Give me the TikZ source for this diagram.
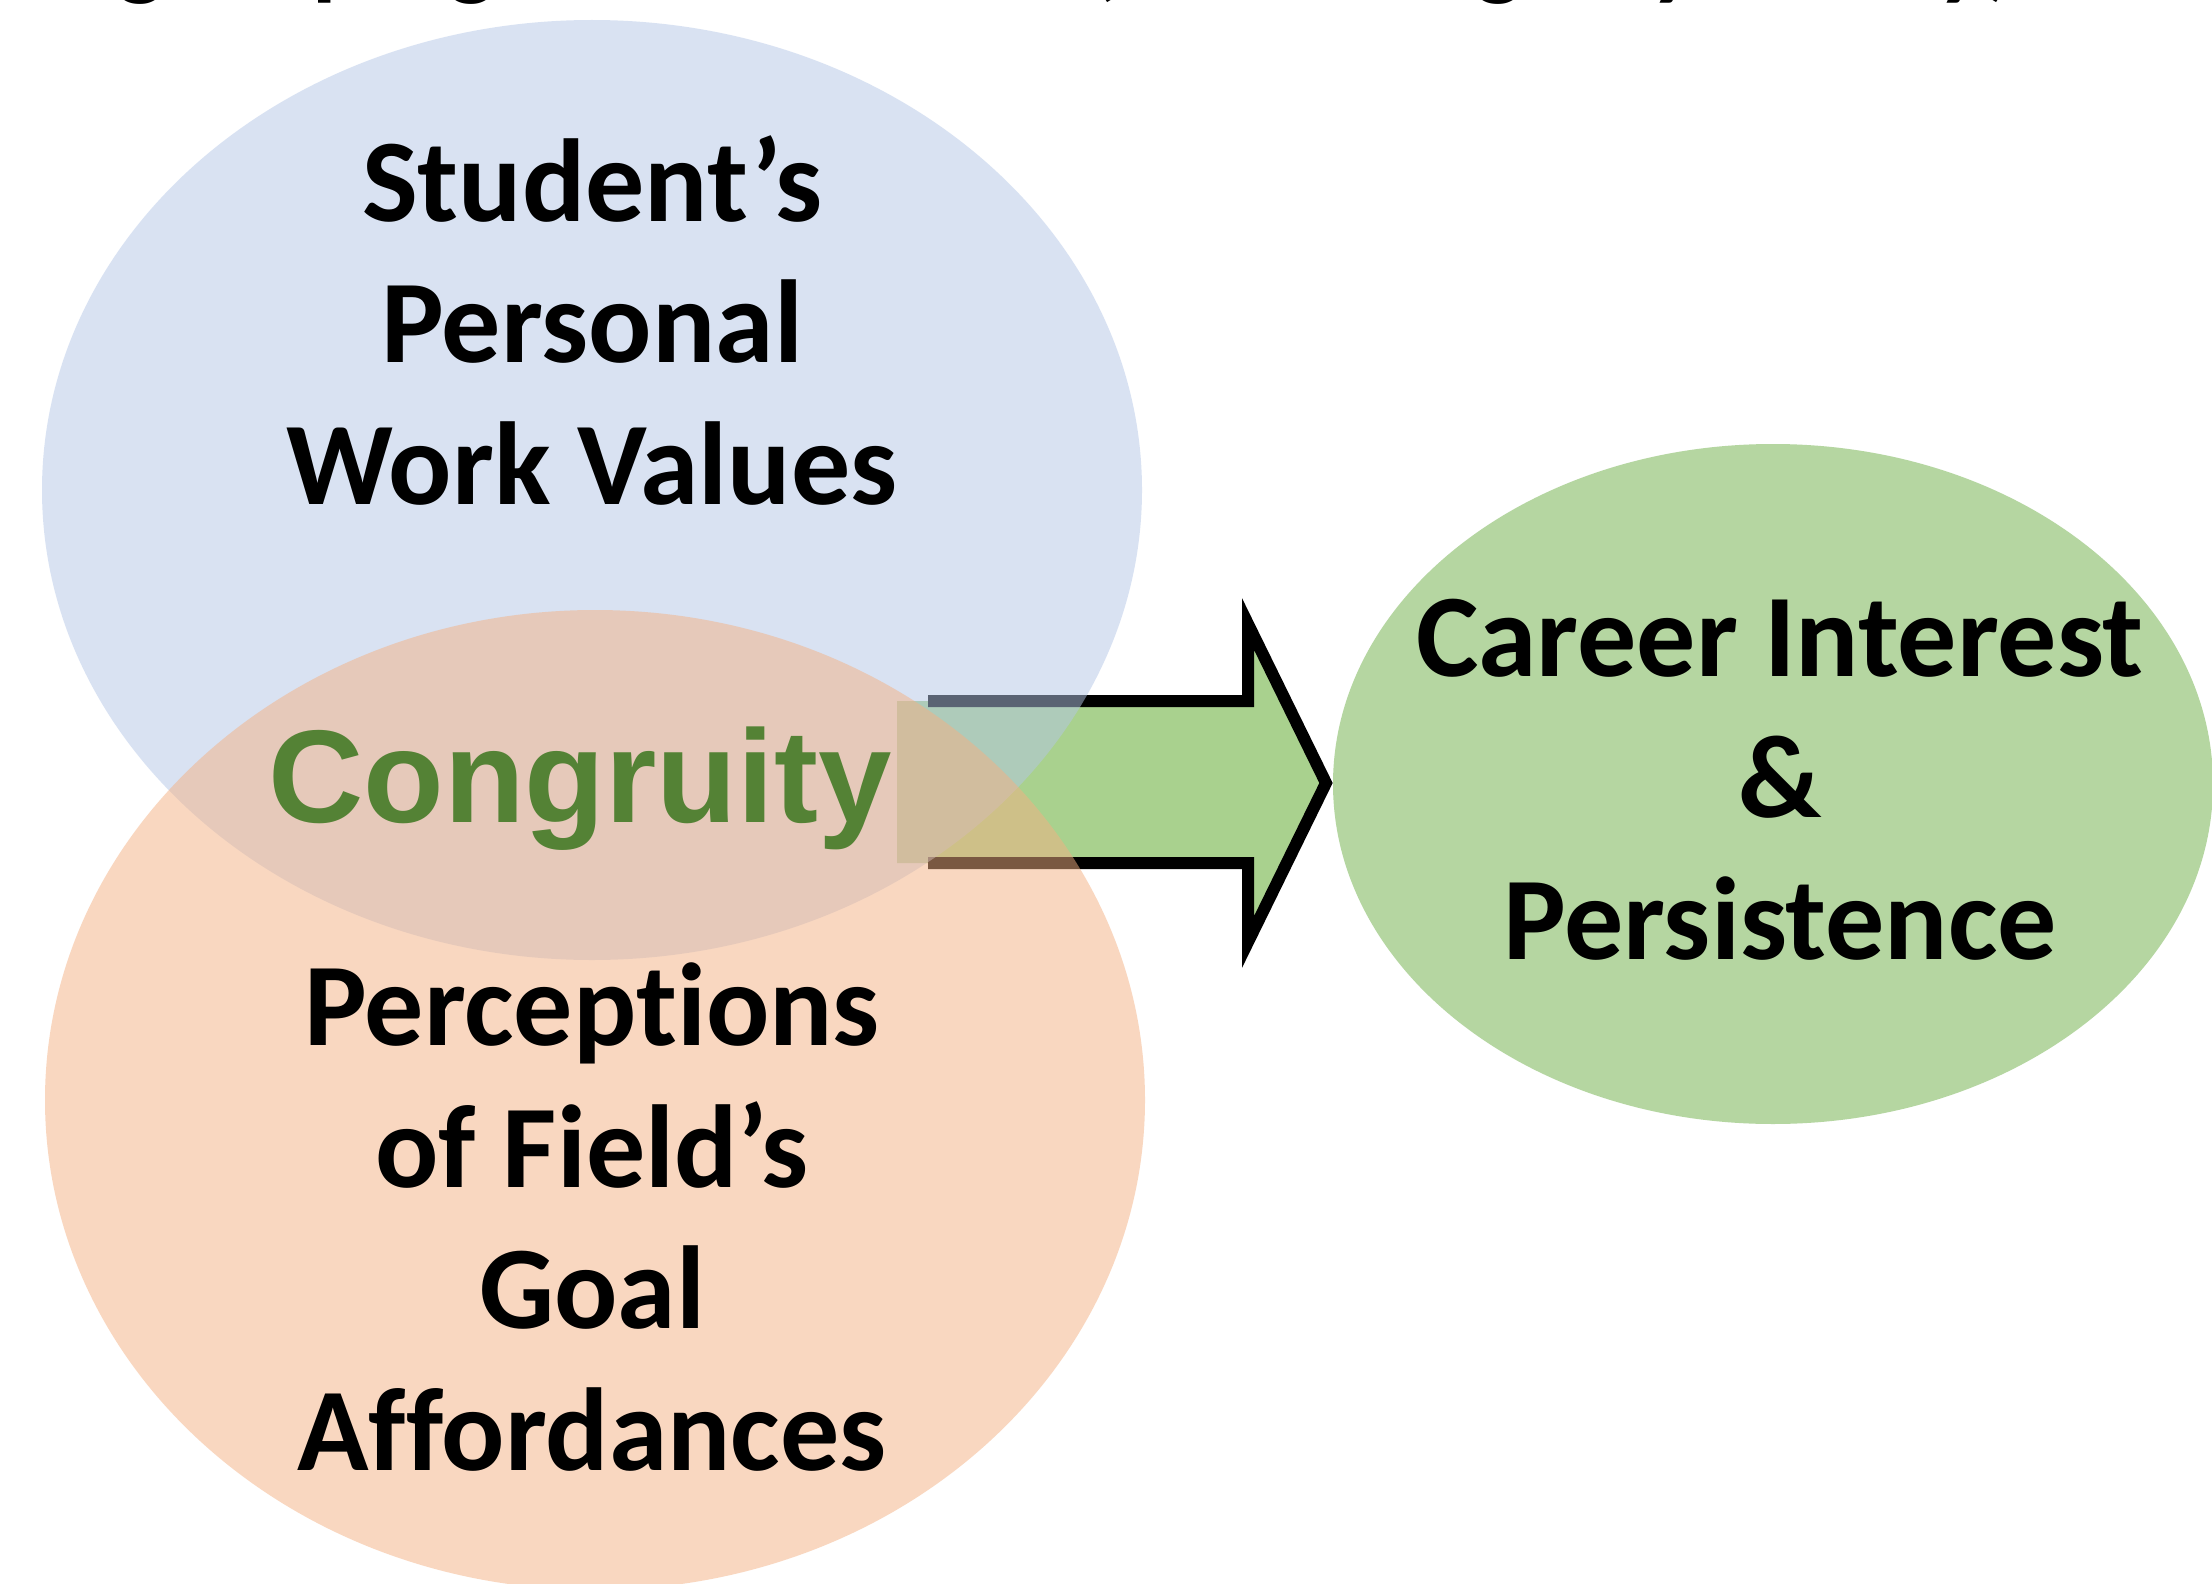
\documentclass[tikz,border=0pt]{standalone}
\usepackage{fontspec}
\setmainfont{Carlito}[Ligatures=NoCommon]
\newfontfamily\congfont{Liberation Sans}
\usetikzlibrary{shapes.geometric}
\definecolor{valblue}{HTML}{B4C7E7}
\definecolor{affpeach}{HTML}{F4B183}
\definecolor{outgreen}{HTML}{B5D6A1}
\definecolor{arrowgreen}{HTML}{A9D18E}
\definecolor{congreen}{HTML}{548235}
\begin{document}
\begin{tikzpicture}[x=1pt,y=-1pt,
  blob/.style={ellipse, inner sep=0pt, draw=none},
  label/.style={align=center, font=\fontsize{118}{141.5}\selectfont\bfseries, text=black, inner sep=0pt},
  frag/.style={font=\fontsize{100}{100}\selectfont\bfseries, inner sep=0pt, anchor=base west},
  arrowline/.style={draw=black, line width=12pt, line join=miter}]
\useasboundingbox (0,0) rectangle (2212,1584);
\fill[white] (0,0) rectangle (2212,1584);

% lower edge of the heading line above the picture
\begin{scope}
  \clip (0,0) rectangle (2212,1584);
  \node[frag] (h1) at (117,-12) {g};
  \node[frag] (h2) at (312,-12) {p};
  \node[frag] (h3) at (448,-12) {g};
  \node[frag] (h4) at (1088,-12) {(};
  \node[frag] (h5) at (1475,-12) {g};
  \node[frag] (h6) at (1650,-12) {y};
  \node[frag] (h7) at (1937,-12) {y)};
\end{scope}

% block arrow towards the outcome
\coordinate (a0) at (897,701);
\coordinate (a1) at (928,701);
\coordinate (a2) at (1248,701);
\coordinate (a3) at (1248,624);
\coordinate (tip) at (1326,783);
\coordinate (a5) at (1248,942);
\coordinate (a6) at (1248,863);
\coordinate (a7) at (928,863);
\coordinate (a8) at (897,863);
\fill[arrowgreen] (a0) -- (a2) -- (a3) -- (tip) -- (a5) -- (a6) -- (a8) -- cycle;
\draw[arrowline] (a1) -- (a2) -- (a3) -- (tip) -- (a5) -- (a6) -- (a7);

% the two overlapping circles and the outcome
\node[blob, fill=valblue, fill opacity=.5, minimum width=1100pt, minimum height=940pt] (values) at (592,490) {};
\node[blob, fill=affpeach, fill opacity=.5, minimum width=1100pt, minimum height=980pt] (afford) at (595,1100) {};
\node[blob, fill=outgreen, minimum width=880pt, minimum height=680pt] (outcome) at (1773,784) {};

% texts (anchored at the baseline of their last line)
\node[label, anchor=base] (tvalues) at (592,504) {Student’s\\Personal\\Work Values};
\node[label, anchor=base] (tafford) at (592,1470) {Perceptions\\of Field’s\\Goal\\Affordances};
\node[label, anchor=base] (toutcome) at (1780,959) {Career Interest\\\&\\Persistence};
\node[inner sep=0pt, anchor=base, text=congreen, font=\congfont\bfseries\fontsize{132}{132}\selectfont] (cong) at (580,822) {Congruity};
\end{tikzpicture}
\end{document}
